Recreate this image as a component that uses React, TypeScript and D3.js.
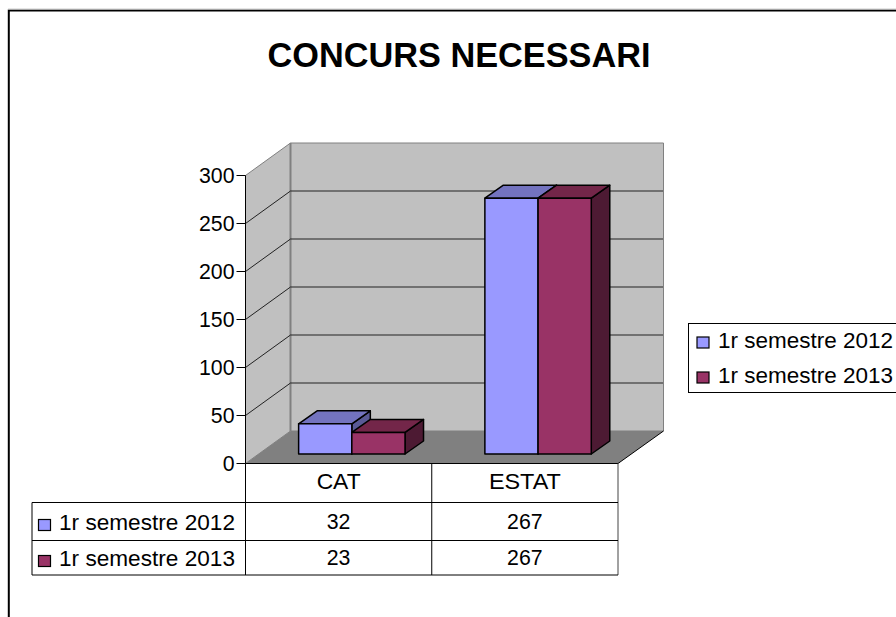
import React from "react";
import * as d3 from "d3";

const categories = ["CAT", "ESTAT"];
const categoryWidths = [44, 72];
const seriesNames = ["1r semestre 2012", "1r semestre 2013"];
const values2012 = [32, 267];
const values2013 = [23, 267];
const yTicks = [0, 50, 100, 150, 200, 250, 300];
const title = "CONCURS NECESSARI";

const front = ["#9999FF", "#993366"];
const tops = ["#7373BF", "#732649"];
const sides = ["#5A5A96", "#4D1A33"];
const font = "'Liberation Sans', Arial, sans-serif";

export default function App() {
  const series = [values2012, values2013];
  const L = 245.5, R = 618, B = 463.5, T = 175.5, DX = 45, DY = -32.5;
  const y = d3.scaleLinear().domain([0, 300]).range([B, T]);
  const x = d3.scaleBand<string>().domain(categories).range([L, R]);
  const bw = 53.2, bdx = 18.5, bdy = -13, ox = 13.2, oy = -9.5;
  const sx = d3.scaleBand<number>().domain([0, 1]).range([-bw, bw]);
  const pts = (p: number[][]) => p.map((q) => q.join(",")).join(" ");
  const rowYs = [502.5, 540.5, 575];
  const fs = 21.3;

  return (
    <svg width={896} height={617} style={{ position: "absolute", left: 0, top: 0, background: "#fff" }} fontFamily={font}>
      <path d="M8.8,617V10.5H896" fill="none" stroke="#000" strokeWidth={2} />
      <line x1={8} x2={896} y1={9} y2={9} stroke="#ccc" strokeWidth={1} />
      <text x={459} y={67} textAnchor="middle" fontSize={34.3} fontWeight="bold">{title}</text>

      {/* walls and floor */}
      <polygon points={pts([[L, B], [L, T], [L + DX, T + DY], [L + DX, B + DY]])} fill="#C0C0C0" stroke="#808080" />
      <polygon points={pts([[L + DX, T + DY], [R + DX + 0.5, T + DY], [R + DX + 0.5, B + DY], [L + DX, B + DY]])} fill="#C0C0C0" stroke="#808080" />
      <polygon points={pts([[L, B], [L + DX, B + DY], [R + DX + 0.5, B + DY], [R, B]])} fill="#808080" />
      <line x1={R} y1={B} x2={R + DX + 0.5} y2={B + DY} stroke="#000" />
      <line x1={L + DX} y1={T + DY} x2={L + DX} y2={B + DY} stroke="#808080" strokeWidth={2} />

      {yTicks.filter((t) => t > 0 && t < 300).map((t) => (
        <polyline key={t} points={pts([[L, y(t)], [L + DX, y(t) + DY], [R + DX, y(t) + DY]])} fill="none" stroke="#222" strokeWidth={1} />
      ))}
      <line x1={L} y1={T} x2={L} y2={B} stroke="#000" />
      <line x1={L} y1={B} x2={R} y2={B} stroke="#000" />
      {yTicks.map((t) => (
        <g key={t}>
          <line x1={L - 9} x2={L} y1={y(t)} y2={y(t)} stroke="#000" />
          <text x={L - 11} y={y(t) + 7} textAnchor="end" fontSize={fs}>{t}</text>
        </g>
      ))}

      {/* bars */}
      {categories.map((c, ci) => {
        const cx = x(c)! + x.bandwidth() / 2 + ox;
        const y0 = y(0) + oy;
        return [0, 1].map((si) => {
          const x0 = cx + sx(si)!;
          const x1 = x0 + bw;
          const yt = y(series[si][ci]) + oy + 0.5;
          return (
            <g key={c + si} stroke="#000" strokeWidth={1.5} strokeLinejoin="round">
              <polygon points={pts([[x1, yt], [x1 + bdx, yt + bdy], [x1 + bdx, y0 + bdy], [x1, y0]])} fill={sides[si]} />
              <polygon points={pts([[x0, yt], [x0 + bdx, yt + bdy], [x1 + bdx, yt + bdy], [x1, yt]])} fill={tops[si]} />
              <rect x={x0} y={yt} width={bw} height={y0 - yt} fill={front[si]} />
            </g>
          );
        });
      })}

      {/* data table */}
      <g stroke="#000" strokeWidth={1} fill="none">
        <line x1={L} x2={L} y1={B} y2={rowYs[2]} />
        <line x1={x(categories[1])} x2={x(categories[1])} y1={B} y2={rowYs[2]} />
        <line x1={R} x2={R} y1={B} y2={rowYs[2]} stroke="#444" />
        <line x1={32} x2={32} y1={rowYs[0]} y2={rowYs[2]} />
        {rowYs.map((r) => <line key={r} x1={32} x2={R} y1={r} y2={r} />)}
      </g>
      {categories.map((c, ci) => (
        <g key={c} fontSize={fs} textAnchor="middle">
          <text x={x(c)! + x.bandwidth() / 2} y={488.5} textLength={categoryWidths[ci]} lengthAdjust="spacingAndGlyphs">{c}</text>
          <text x={x(c)! + x.bandwidth() / 2} y={529}>{values2012[ci]}</text>
          <text x={x(c)! + x.bandwidth() / 2} y={565}>{values2013[ci]}</text>
        </g>
      ))}
      {seriesNames.map((s, i) => (
        <g key={s}>
          <rect x={38.5} y={[519.5, 555.5][i]} width={12} height={11} fill={front[i]} stroke="#000" strokeWidth={1.2} />
          <text x={59} y={[530, 566][i]} fontSize={fs} textLength={176} lengthAdjust="spacingAndGlyphs">{s}</text>
        </g>
      ))}

      {/* legend */}
      <rect x={688.5} y={323.5} width={220} height={69} fill="#fff" stroke="#000" />
      {seriesNames.map((s, i) => (
        <g key={s}>
          <rect x={697} y={[337, 372][i]} width={12} height={11} fill={front[i]} stroke="#000" strokeWidth={1.2} />
          <text x={718} y={[348, 383][i]} fontSize={fs} textLength={175} lengthAdjust="spacingAndGlyphs">{s}</text>
        </g>
      ))}
    </svg>
  );
}
